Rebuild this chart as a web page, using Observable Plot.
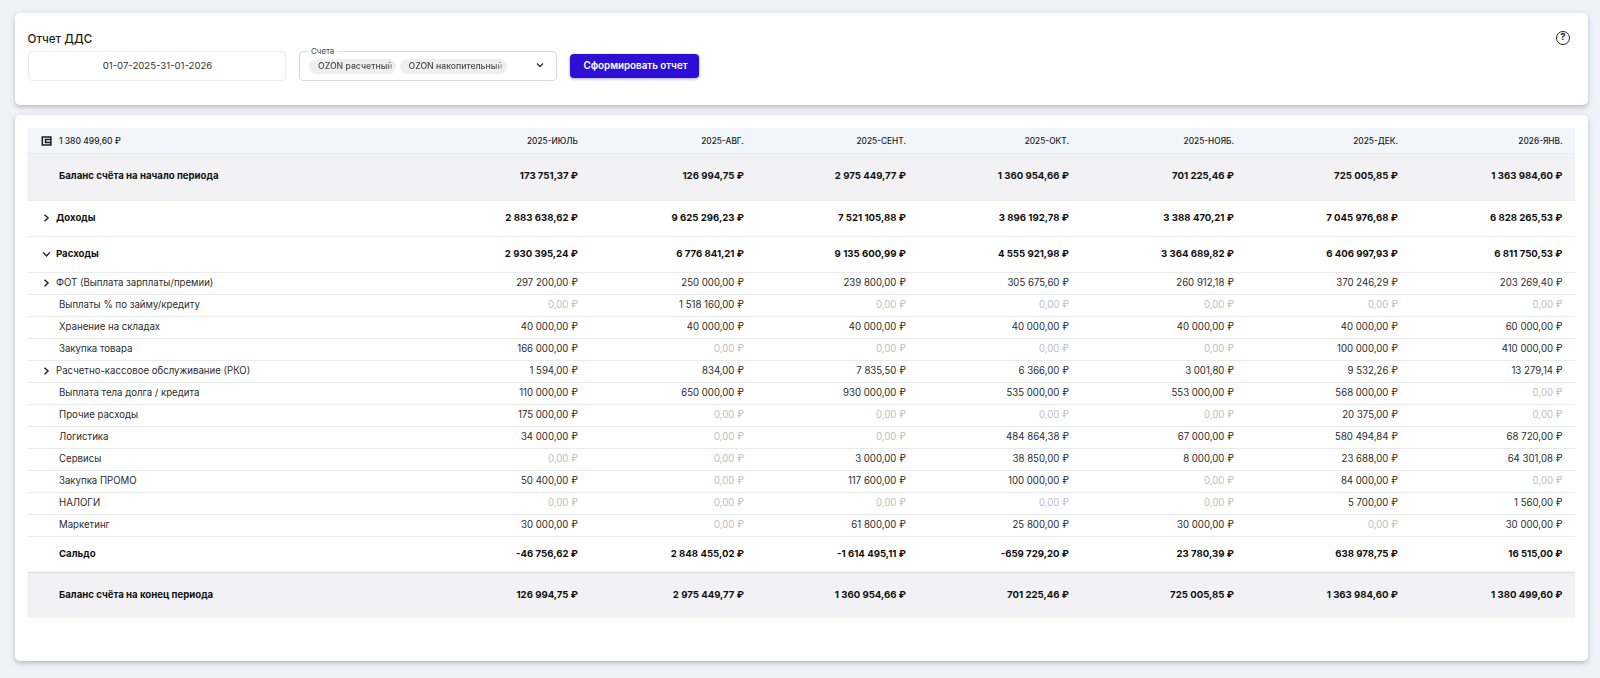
<!DOCTYPE html>
<html lang="ru">
<head>
<meta charset="utf-8">
<script src="https://cdn.jsdelivr.net/npm/d3@7"></script>
<script src="https://cdn.jsdelivr.net/npm/@observablehq/plot@0.6"></script>
<style>
  html, body { margin: 0; width: 1600px; height: 678px; overflow: hidden; background: #f0f2f8; font-family: Inter, sans-serif; color: #1c1c1e; }
  .card { position: absolute; left: 15px; width: 1573px; background: #fff; border-radius: 5px; box-shadow: 0 2px 5px rgba(70,80,110,.35); }
  #top { top: 13px; height: 92px; }
  #table { top: 115px; height: 546px; }
  #table svg { display: block; background: transparent; }
  .abs { position: absolute; box-sizing: border-box; }
  #title { left: 12.5px; top: 17.7px; font-size: 11.6px; font-weight: 500; line-height: 16px; }
  #dates { left: 12.5px; top: 38px; width: 258px; height: 30px; padding-left: 2px; border: 1px solid #ecedf0; border-radius: 4px; font-size: 9.6px; line-height: 28px; text-align: center; color: #333; }
  #select { left: 283.5px; top: 38px; width: 258px; height: 30px; border: 1px solid #d9dbe0; border-radius: 4px; }
  #legend { left: 293px; top: 32.5px; padding: 0 3px; background: #fff; font-size: 8px; line-height: 11px; color: #444; }
  .chip { top: 46px; height: 15px; border-radius: 8px; background: #efefef; font-size: 8.7px; font-weight: 500; line-height: 15px; color: #444; white-space: nowrap; }
  .chip span { position: absolute; left: 9px; background: linear-gradient(to right, #444 92%, #c8c8c8); -webkit-background-clip: text; background-clip: text; color: transparent; }
  #chev { left: 521px; top: 48px; }
  #button { left: 554.5px; top: 41px; width: 129px; height: 24px; padding-left: 3px; background: #2d0fd8; border-radius: 4px; box-shadow: 0 1px 3px rgba(40,20,160,.4); color: #fff; font-size: 9.8px; font-weight: 600; line-height: 24px; text-align: center; }
  #help { left: 1541px; top: 18px; width: 14px; height: 14px; border: 1.7px solid #222; border-radius: 50%; font-size: 9.5px; font-weight: 700; line-height: 10.6px; text-align: center; }
</style>
</head>
<body>
<div id="top" class="card">
  <div id="title" class="abs">Отчет ДДС</div>
  <div id="dates" class="abs">01-07-2025-31-01-2026</div>
  <div id="select" class="abs"></div>
  <div id="legend" class="abs">Счета</div>
  <div class="abs chip" style="left:294px;width:87px"><span>OZON расчетный</span></div>
  <div class="abs chip" style="left:384.5px;width:107px"><span>OZON накопительный</span></div>
  <svg id="chev" class="abs" width="8" height="8" viewBox="0 0 8 8"><path d="M1 2.5 L4 5.5 L7 2.5" fill="none" stroke="#333" stroke-width="1.3"/></svg>
  <div id="button" class="abs">Сформировать отчет</div>
  <div id="help" class="abs">?</div>
</div>
<div id="table" class="card"></div>

<script>
const months = ['2025-ИЮЛЬ', '2025-АВГ.', '2025-СЕНТ.', '2025-ОКТ.', '2025-НОЯБ.', '2025-ДЕК.', '2026-ЯНВ.']
const walletTotal = 1380499.60

const rowNames = [
  'Баланс счёта на начало периода', 'Доходы', 'Расходы',
  'ФОТ (Выплата зарплаты/премии)', 'Выплаты % по займу/кредиту', 'Хранение на складах', 'Закупка товара',
  'Расчетно-кассовое обслуживание (РКО)', 'Выплата тела долга / кредита', 'Прочие расходы', 'Логистика',
  'Сервисы', 'Закупка ПРОМО', 'НАЛОГИ', 'Маркетинг', 'Сальдо', 'Баланс счёта на конец периода'
]

const opening   = [173751.37, 126994.75, 2975449.77, 1360954.66, 701225.46, 725005.85, 1363984.60]
const income    = [2883638.62, 9625296.23, 7521105.88, 3896192.78, 3388470.21, 7045976.68, 6828265.53]
const expenses  = [2930395.24, 6776841.21, 9135600.99, 4555921.98, 3364689.82, 6406997.93, 6811750.53]
const payroll   = [297200, 250000, 239800, 305675.60, 260912.18, 370246.29, 203269.40]
const interest  = [0, 1518160, 0, 0, 0, 0, 0]
const storage   = [40000, 40000, 40000, 40000, 40000, 40000, 60000]
const goods     = [166000, 0, 0, 0, 0, 100000, 410000]
const banking   = [1594, 834, 7835.50, 6366, 3001.80, 9532.26, 13279.14]
const principal = [110000, 650000, 930000, 535000, 553000, 568000, 0]
const other     = [175000, 0, 0, 0, 0, 20375, 0]
const logistics = [34000, 0, 0, 484864.38, 67000, 580494.84, 68720]
const services  = [0, 0, 3000, 38850, 8000, 23688, 64301.08]
const promo     = [50400, 0, 117600, 100000, 0, 84000, 0]
const taxes     = [0, 0, 0, 0, 0, 5700, 1560]
const marketing = [30000, 0, 61800, 25800, 30000, 0, 30000]
const balance   = [-46756.62, 2848455.02, -1614495.11, -659729.20, 23780.39, 638978.75, 16515]
const closing   = [126994.75, 2975449.77, 1360954.66, 701225.46, 725005.85, 1363984.60, 1380499.60]

const series = [opening, income, expenses, payroll, interest, storage, goods, banking, principal,
  other, logistics, services, promo, taxes, marketing, balance, closing]

const boldRows = [0, 1, 2, 15, 16]
const shadedRows = [0, 16]
const collapsedRows = [1, 3, 7]
const expandedRows = [2]

// y: 0 is the header row, row i of rowNames spans i + 1 .. i + 2
const rowEdges = [13, 38, 85, 121, 157, 179, 201, 223, 245, 267, 289, 311, 333, 355, 377, 399, 421, 457, 503]
// x: 0 table left, 1 label column, 2..8 right edge of each month, 9 table right
const colEdges = [12.5, 43.5, 562.4, 728.4, 890.4, 1053.4, 1218.4, 1382.4, 1547, 1560]

const money = v => d3.format(',.2f')(v).replace(/,/g, ' ').replace('.', ',').replace('−', '-') + ' ₽'

const cells = series.flatMap((values, r) => values.map((v, m) => ({row: r, col: m + 2, v})))
const rows = rowNames.map((name, r) => ({
  r, name,
  chevron: collapsedRows.includes(r) || expandedRows.includes(r)
}))
const isBold = r => boldRows.includes(r)

const chevronRight = {draw(c) { c.moveTo(-2, -3.3); c.lineTo(1.6, 0); c.lineTo(-2, 3.3) }}
const chevronDown = {draw(c) { c.moveTo(-3.3, -1.6); c.lineTo(0, 2); c.lineTo(3.3, -1.6) }}
const wallet = {draw(c) {
  c.moveTo(-4.2, -4); c.lineTo(4.4, -4); c.lineTo(4.4, 4); c.lineTo(-4.2, 4); c.closePath()
  c.moveTo(4.4, -1.4); c.lineTo(-1, -1.4); c.lineTo(-1, 1.4); c.lineTo(4.4, 1.4)
}}

const labelMark = (filter, dx, fontWeight, fill) => Plot.text(rows.filter(filter), {
  x: 1, dx, dy: -0.6, y: d => d.r + 1.5, text: 'name', textAnchor: 'start', fontSize: 9.65, fontWeight, fill
})
const xLeft = () => 0, xRight = () => 9

const chart = Plot.plot({
  width: 1573,
  height: 546,
  margin: 0,
  style: {fontFamily: 'Inter, sans-serif', background: 'transparent'},
  x: {type: 'linear', domain: d3.range(colEdges.length), range: colEdges, axis: null},
  y: {type: 'linear', domain: d3.range(rowEdges.length), range: rowEdges, axis: null},
  marks: [
    Plot.rect([0], {x1: xLeft, x2: xRight, y1: 0, y2: 1, fill: '#f2f6fa'}),
    Plot.rect(shadedRows, {x1: xLeft, x2: xRight, y1: d => d + 1, y2: d => d + 2, fill: '#f2f2f4'}),
    Plot.ruleY(d3.range(1, rowEdges.length - 1), {x1: 0, x2: 9, stroke: '#e9eaed', strokeWidth: 1}),
    Plot.ruleY([rowEdges.length - 2], {x1: 0, x2: 9, stroke: '#e3e3e6', strokeWidth: 2}),

    // header
    Plot.dot([0], {x: 1, dx: -12.5, y: 0.5, symbol: wallet, stroke: '#1c1c1e', strokeWidth: 1.5, fill: 'none'}),
    Plot.text([money(walletTotal)], {x: 1, y: 0.5, text: d => d, textAnchor: 'start', fontSize: 8.5, fontWeight: 500, fill: '#1c1c1e'}),
    Plot.text(months, {x: (d, i) => i + 2, y: 0.5, text: d => d, textAnchor: 'end', fontSize: 8.3, fontWeight: 500, fill: '#1c1c1e'}),

    // row labels
    labelMark(d => !d.chevron && !isBold(d.r), 0, 400, '#2b2b2e'),
    labelMark(d => !d.chevron && isBold(d.r), 0, 700, '#111'),
    labelMark(d => d.chevron && !isBold(d.r), -3, 400, '#2b2b2e'),
    labelMark(d => d.chevron && isBold(d.r), -3, 700, '#111'),
    Plot.dot(collapsedRows, {x: 1, dx: -12.5, dy: -0.5, y: d => d + 1.5, symbol: chevronRight, stroke: '#222', strokeWidth: 1.4, fill: 'none'}),
    Plot.dot(expandedRows, {x: 1, dx: -12.5, dy: -0.5, y: d => d + 1.5, symbol: chevronDown, stroke: '#222', strokeWidth: 1.4, fill: 'none'}),

    // values
    Plot.text(cells.filter(d => !isBold(d.row)), {
      x: 'col', dy: -0.6, y: d => d.row + 1.5, text: d => money(d.v), textAnchor: 'end',
      fontSize: 9.65, fontWeight: 400, fill: d => d.v === 0 ? '#bdbdc0' : '#2b2b2e'
    }),
    Plot.text(cells.filter(d => isBold(d.row)), {
      x: 'col', dy: -0.6, y: d => d.row + 1.5, text: d => money(d.v), textAnchor: 'end',
      fontSize: 9.65, fontWeight: 700, fill: '#111'
    })
  ]
})

d3.select('#table').append(() => chart)
</script>
</body>
</html>
